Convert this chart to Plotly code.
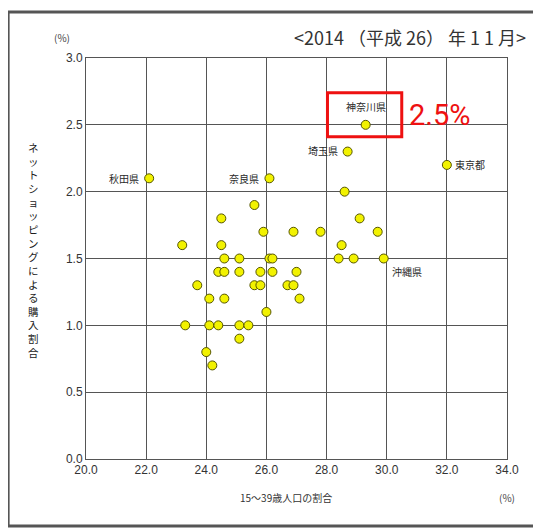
import plotly.graph_objects as go

# data: (15-39 population share %, online shopping purchase share %)
x_vals = [22.1, 26.1, 29.3, 28.7, 32.0, 29.9,
          25.6, 24.5, 25.9, 26.9, 23.2, 24.5, 24.6, 25.1, 26.1, 26.2,
          24.4, 24.6, 25.1, 25.8, 26.2, 27.0,
          23.7, 25.6, 25.8, 26.7, 26.9, 27.1, 24.1, 24.6, 26.0,
          23.3, 24.1, 24.4, 25.1, 25.4, 25.1, 24.0, 24.2,
          28.6, 29.1, 27.8, 29.7, 28.5, 28.4, 28.9]
y_vals = [2.1, 2.1, 2.5, 2.3, 2.2, 1.5,
          1.9, 1.8, 1.7, 1.7, 1.6, 1.6, 1.5, 1.5, 1.5, 1.5,
          1.4, 1.4, 1.4, 1.4, 1.4, 1.4,
          1.3, 1.3, 1.3, 1.3, 1.3, 1.2, 1.2, 1.2, 1.1,
          1.0, 1.0, 1.0, 1.0, 1.0, 0.9, 0.8, 0.7,
          2.0, 1.8, 1.7, 1.7, 1.6, 1.5, 1.5]
point_labels = ["秋田県", "奈良県", "神奈川県", "埼玉県", "東京都", "沖縄県"]
x_ticks = [20.0, 22.0, 24.0, 26.0, 28.0, 30.0, 32.0, 34.0]
y_ticks = [0.0, 0.5, 1.0, 1.5, 2.0, 2.5, 3.0]
title_text = "<2014\u00a0（平成\u00a026）\u00a0年\u00a01\u00a01\u00a0月>"
x_title = "15～39歳人口の割合"
y_title = "ネットショッピングによる購入割合"
highlight_value = "2.5%"

JP = "Noto Sans CJK JP"
GRID = "#555555"

fig = go.Figure()
fig.add_trace(go.Scatter(
    x=x_vals, y=y_vals, mode="markers",
    marker=dict(size=9, color="#f2f200", line=dict(color="#555500", width=1)),
    hoverinfo="x+y", showlegend=False))

# point labels
label_cfg = {
    "秋田県": dict(xanchor="right", yanchor="middle", xshift=-8, yshift=0),
    "奈良県": dict(xanchor="right", yanchor="middle", xshift=-8, yshift=0),
    "神奈川県": dict(xanchor="center", yanchor="bottom", xshift=0, yshift=9),
    "埼玉県": dict(xanchor="right", yanchor="middle", xshift=-8, yshift=1),
    "東京都": dict(xanchor="left", yanchor="middle", xshift=6, yshift=0),
    "沖縄県": dict(xanchor="left", yanchor="top", xshift=6, yshift=-3),
}
for i, name in enumerate(point_labels):
    c = label_cfg[name]
    fig.add_annotation(x=x_vals[i], y=y_vals[i], text=name, showarrow=False,
                       font=dict(family=JP, size=10, color="#2a2a2a"), **c)

# red highlight box around Kanagawa
kx, ky = x_vals[2], y_vals[2]
fig.add_shape(type="rect", xref="x", yref="y",
              x0=kx - 1.27, x1=kx + 1.2, y0=ky - 0.09, y1=ky + 0.24,
              line=dict(color="#ee1111", width=3))
fig.add_annotation(x=kx + 1.36, y=ky + 0.07, text=highlight_value, showarrow=False,
                   xanchor="left", yanchor="middle",
                   font=dict(family="Roboto", size=29, color="#ee1111"))

# outer frame
fig.add_shape(type="rect", xref="paper", yref="paper",
              x0=-0.185, x1=1.071, y0=-0.167, y1=1.115,
              line=dict(color="#555555", width=3))

# title and unit labels
fig.add_annotation(xref="paper", yref="paper", x=1.05, y=1.052, text=title_text,
                   showarrow=False, xanchor="right", yanchor="middle",
                   font=dict(family=JP, size=18, color="#333333"))
fig.add_annotation(xref="paper", yref="paper", x=-0.058, y=1.052, text="(%)",
                   showarrow=False, xanchor="center", yanchor="middle",
                   font=dict(family=JP, size=10, color="#444444"))
fig.add_annotation(xref="paper", yref="paper", x=1.0, y=-0.095, text="(%)",
                   showarrow=False, xanchor="center", yanchor="middle",
                   font=dict(family=JP, size=10, color="#444444"))
fig.add_annotation(xref="paper", yref="paper", x=0.475, y=-0.095, text=x_title,
                   showarrow=False, xanchor="center", yanchor="middle",
                   font=dict(family=JP, size=10, color="#333333"))
fig.add_annotation(xref="paper", yref="paper", x=-0.125, y=0.52,
                   text="<br>".join(list(y_title)),
                   showarrow=False, xanchor="center", yanchor="middle",
                   font=dict(family=JP, size=10.5, color="#1a1a1a"))

fig.update_xaxes(range=[20, 34], tickvals=x_ticks,
                 ticktext=[f"{v:.1f}" for v in x_ticks],
                 showgrid=True, gridcolor=GRID, gridwidth=1,
                 showline=True, linecolor=GRID, mirror=True, zeroline=False,
                 ticks="", tickfont=dict(family="Liberation Sans", size=12, color="#333333"))
fig.update_yaxes(range=[0, 3], tickvals=y_ticks,
                 ticktext=[f"{v:.1f}" for v in y_ticks],
                 showgrid=True, gridcolor=GRID, gridwidth=1,
                 showline=True, linecolor=GRID, mirror=True, zeroline=False,
                 ticks="", tickfont=dict(family="Liberation Sans", size=12, color="#333333"))

# page body has an 8px default margin, so the figure is sized to fit the window
fig.update_layout(width=533, height=522,
                  margin=dict(l=78, r=34, t=50, b=71),
                  plot_bgcolor="white", paper_bgcolor="white")

fig.write_html("out.html")
